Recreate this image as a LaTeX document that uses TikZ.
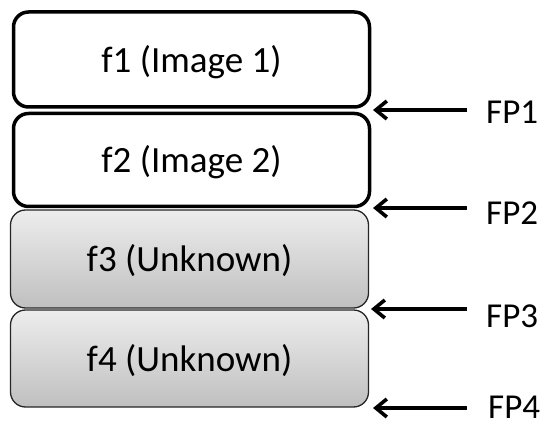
\documentclass[tikz,border=0pt]{standalone}
\usepackage{fontspec}
\setmainfont{Carlito}
\usetikzlibrary{arrows.meta}

\tikzset{
  frame/.style={draw=black, line width=3.5pt, rounded corners=15pt, fill=white,
    inner sep=0pt, text depth=2pt, font=\fontsize{37}{44}\selectfont},
  greyframe/.style={draw=black!85, line width=1.3pt, rounded corners=15pt,
    top color=black!7, bottom color=black!25,
    inner sep=0pt, text depth=2pt, font=\fontsize{37}{44}\selectfont},
  fplabel/.style={inner sep=0pt, anchor=west,
    font=\fontsize{35}{42}\selectfont},
  pointer/.style={line width=3.6pt, -{Straight Barb[length=11pt,width=18pt,line width=3.6pt]}}
}

\begin{document}
\begin{tikzpicture}[x=1pt, y=-1pt]
  \useasboundingbox (0,0) rectangle (543,430);

  % stacked frames
  \node[greyframe, minimum width=358pt, minimum height=98pt] (f3) at (189.5,259) {f3 (Unknown)};
  \node[greyframe, minimum width=358pt, minimum height=97pt] (f4) at (189.5,358.5) {f4 (Unknown)};
  \node[frame, minimum width=356pt, minimum height=95pt] (f1) at (191.5,59.5) {f1 (Image 1)};
  \node[frame, minimum width=356pt, minimum height=93pt] (f2) at (191.5,160) {f2 (Image 2)};

  % frame boundaries
  \coordinate (t1) at (373,110);
  \coordinate (t2) at (373,208);
  \coordinate (t3) at (371,309);
  \coordinate (t4) at (373,408);

  % pointer labels
  \node[fplabel] (fp1) at (486,112) {FP1};
  \node[fplabel] (fp2) at (486,213) {FP2};
  \node[fplabel] (fp3) at (486,316) {FP3};
  \node[fplabel] (fp4) at (488,407) {FP4};

  \draw[pointer] ([xshift=-19pt]fp1.west |- t1) -- (t1);
  \draw[pointer] ([xshift=-19pt]fp2.west |- t2) -- (t2);
  \draw[pointer] ([xshift=-19pt]fp3.west |- t3) -- (t3);
  \draw[pointer] ([xshift=-21pt]fp4.west |- t4) -- (t4);
\end{tikzpicture}
\end{document}
